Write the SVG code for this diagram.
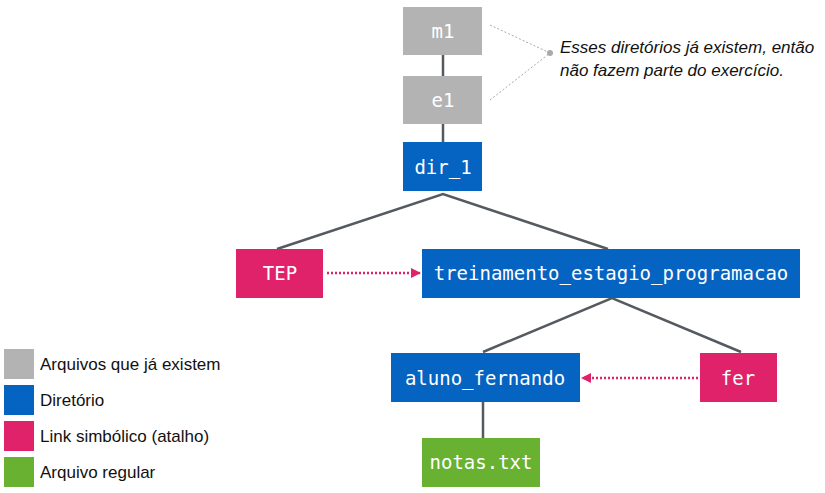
<svg xmlns="http://www.w3.org/2000/svg" width="825" height="493" viewBox="0 0 825 493">
<style>
.lbl{font-family:"DejaVu Sans Mono","Liberation Mono",monospace;font-size:19px;fill:#ffffff;text-anchor:middle;dominant-baseline:central}
.gray{fill:#b3b3b3}.blue{fill:#0563c1}.pink{fill:#e0226a}.green{fill:#69b131}
.edge{stroke:#555a61;stroke-width:2.5;fill:none}
.link{stroke:#e0226a;stroke-width:2.5;stroke-dasharray:2 2;fill:none}
.note{stroke:#aaaaaa;stroke-width:1;stroke-dasharray:2 2;fill:none}
.leg{font-family:"Liberation Sans",Arial,sans-serif;font-size:17px;fill:#111111}
.ann{font-family:"Liberation Sans",Arial,sans-serif;font-size:17px;font-style:italic;fill:#111111}
</style>
<defs>
<marker id="ah" markerWidth="10" markerHeight="10" refX="9" refY="5" orient="auto" markerUnits="userSpaceOnUse">
<path d="M0,0 L10,5 L0,10 Z" fill="#e0226a"/>
</marker>
</defs>
<g id="connectors">
<line class="edge" x1="443" y1="55" x2="443" y2="76"/>
<line class="edge" x1="443" y1="124" x2="443" y2="142"/>
<polyline class="edge" points="277,249 443,194 608,249"/>
<polyline class="edge" points="483,352 612,298 741,352"/>
<line class="edge" x1="483" y1="402" x2="483" y2="438"/>
<line class="link" x1="327" y1="273" x2="420" y2="273" marker-end="url(#ah)"/>
<line class="link" x1="698" y1="378" x2="582" y2="378" marker-end="url(#ah)"/>
<line class="note" x1="490" y1="25" x2="550" y2="53"/>
<line class="note" x1="490" y1="100" x2="550" y2="53"/>
<circle cx="550" cy="53" r="3" fill="#aaaaaa"/>
</g>
<g id="m1"><rect class="gray" x="403" y="7" width="79" height="48"/><text class="lbl" x="443" y="31">m1</text></g>
<g id="e1"><rect class="gray" x="403" y="76" width="79" height="48"/><text class="lbl" x="443" y="100">e1</text></g>
<g id="dir_1"><rect class="blue" x="403" y="142" width="79" height="49"/><text class="lbl" x="443" y="167">dir_1</text></g>
<g id="TEP"><rect class="pink" x="236" y="249" width="87" height="49"/><text class="lbl" x="280" y="273">TEP</text></g>
<g id="treinamento"><rect class="blue" x="422" y="249" width="378" height="49"/><text class="lbl" x="611" y="273">treinamento_estagio_programacao</text></g>
<g id="aluno_fernando"><rect class="blue" x="391" y="353" width="189" height="49"/><text class="lbl" x="485" y="378">aluno_fernando</text></g>
<g id="fer"><rect class="pink" x="700" y="353" width="77" height="49"/><text class="lbl" x="738" y="378">fer</text></g>
<g id="notas"><rect class="green" x="422" y="438" width="118" height="49"/><text class="lbl" x="481" y="462">notas.txt</text></g>
<g id="annotation">
<text class="ann" x="560" y="53">Esses diretórios já existem, então</text>
<text class="ann" x="560" y="76">não fazem parte do exercício.</text>
</g>
<g id="legend">
<rect class="gray" x="4" y="349" width="30" height="30"/><text class="leg" x="40" y="370">Arquivos que já existem</text>
<rect class="blue" x="4" y="385" width="30" height="30"/><text class="leg" x="40" y="406">Diretório</text>
<rect class="pink" x="4" y="421" width="30" height="30"/><text class="leg" x="40" y="442">Link simbólico (atalho)</text>
<rect class="green" x="4" y="457" width="30" height="30"/><text class="leg" x="40" y="478">Arquivo regular</text>
</g>
</svg>
